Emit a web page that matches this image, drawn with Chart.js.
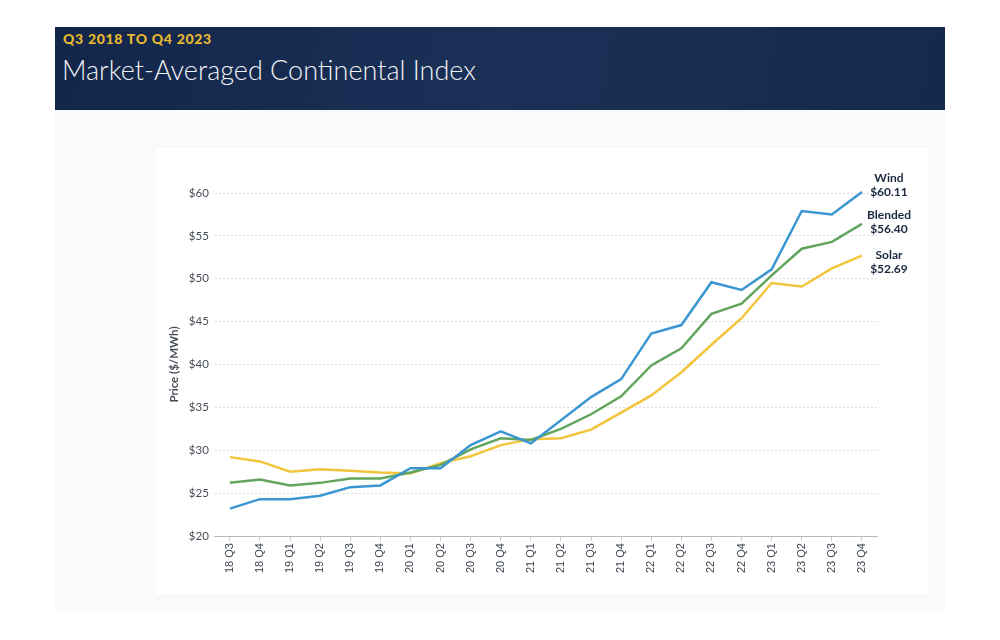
<!DOCTYPE html>
<html>
<head>
<meta charset="utf-8">
<script src="https://cdn.jsdelivr.net/npm/chart.js@4"></script>
<style>
    body { margin: 0; width: 1000px; height: 640px; background: #fff; font-family: Lato, sans-serif; position: relative; overflow: hidden; }
    .banner { position: absolute; left: 55px; top: 27px; width: 890px; height: 83px; background: linear-gradient(100deg, #13264a 0%, #1a3056 50%, #14294c 100%); }
    .banner .sub { position: absolute; left: 8px; top: 3px; color: #e9b92f; font-weight: 900; font-size: 14px; letter-spacing: 0.7px; }
    .banner .title { position: absolute; left: 7px; top: 26px; color: #f1f3f7; font-weight: 300; font-size: 27px; }
    .panel { position: absolute; left: 55px; top: 110px; width: 890px; height: 502px; background: #f9fafb; }
    .card { position: absolute; left: 155px; top: 148px; width: 773px; height: 447px; background: #fff; box-shadow: 0 0 4px rgba(0,0,0,0.03); }
</style>
</head>
<body>
<div class="banner">
    <div class="sub">Q3 2018 TO Q4 2023</div>
    <div class="title">Market-Averaged Continental Index</div>
</div>
<div class="panel"></div>
<div class="card"><canvas id="chartIndex"></canvas></div>

<script>
const quarters = ['18 Q3', '18 Q4', '19 Q1', '19 Q2', '19 Q3', '19 Q4', '20 Q1', '20 Q2', '20 Q3', '20 Q4',
    '21 Q1', '21 Q2', '21 Q3', '21 Q4', '22 Q1', '22 Q2', '22 Q3', '22 Q4', '23 Q1', '23 Q2', '23 Q3', '23 Q4'];
const windPrices = [23.2, 24.3, 24.3, 24.7, 25.7, 25.9, 27.9, 27.9, 30.6, 32.2,
    30.8, 33.5, 36.2, 38.3, 43.6, 44.6, 49.6, 48.7, 51.1, 57.9, 57.5, 60.11];
const blendedPrices = [26.2, 26.6, 25.9, 26.2, 26.7, 26.7, 27.4, 28.3, 30.1, 31.4,
    31.2, 32.5, 34.2, 36.3, 39.9, 41.9, 45.9, 47.1, 50.4, 53.5, 54.3, 56.40];
const solarPrices = [29.2, 28.7, 27.5, 27.8, 27.6, 27.4, 27.3, 28.5, 29.3, 30.6,
    31.3, 31.4, 32.4, 34.4, 36.4, 39.1, 42.3, 45.4, 49.5, 49.1, 51.2, 52.69];
const seriesNames = ['Wind', 'Blended', 'Solar'];
const yTicks = [20, 25, 30, 35, 40, 45, 50, 55, 60];

// Nhãn cuối đường: tên + giá trị cuối
const endLabels = {
    id: 'endLabels',
    afterDatasetsDraw(chart) {
        const ctx = chart.ctx;
        ctx.save();
        ctx.font = 'bold 12px Lato, sans-serif';
        ctx.fillStyle = '#1b2940';
        ctx.textAlign = 'center';
        ctx.textBaseline = 'middle';
        chart.data.datasets.forEach((ds, i) => {
            const meta = chart.getDatasetMeta(i);
            const pt = meta.data[meta.data.length - 1];
            const last = ds.data[ds.data.length - 1];
            const x = pt.x + 27;
            ctx.fillText(ds.label, x, pt.y + ds.labelDy);
            ctx.fillText('$' + last.toFixed(2), x, pt.y + ds.labelDy + 14);
        });
        ctx.restore();
    }
};

function makeLine(label, data, color, labelDy) {
    return {
        label: label,
        data: data,
        borderColor: color,
        backgroundColor: color,
        borderWidth: 2.5,
        pointRadius: 0,
        tension: 0,
        fill: false,
        clip: false,
        labelDy: labelDy
    };
}

new Chart(document.getElementById('chartIndex').getContext('2d'), {
    type: 'line',
    data: {
        labels: quarters,
        datasets: [
            makeLine(seriesNames[0], windPrices, '#3b96d2', -14),
            makeLine(seriesNames[1], blendedPrices, '#62a55c', -9),
            makeLine(seriesNames[2], solarPrices, '#f2c53d', -1)
        ]
    },
    options: {
        responsive: true,
        maintainAspectRatio: false,
        animation: false,
        layout: { padding: { left: 10, right: 51, top: 45, bottom: 20 } },
        plugins: { legend: { display: false }, tooltip: { enabled: false } },
        scales: {
            x: {
                offset: true,
                grid: { drawOnChartArea: false, drawTicks: true, tickLength: 5, color: '#c8cdd4' },
                border: { color: '#b4bac2' },
                ticks: {
                    minRotation: 90, maxRotation: 90, padding: 2,
                    color: '#3d4450', font: { family: 'Liberation Sans, Arial, sans-serif', size: 11 }
                }
            },
            y: {
                min: yTicks[0],
                max: yTicks[yTicks.length - 1],
                afterBuildTicks: (axis) => { axis.ticks = yTicks.map(v => ({ value: v })); },
                grid: { color: '#d9dde3', drawTicks: false },
                border: { display: false, dash: [2, 2] },
                ticks: {
                    padding: 6, color: '#474d57',
                    font: { family: 'Lato, sans-serif', size: 11.5 },
                    callback: (v) => '$' + v
                },
                title: {
                    display: true, text: 'Price ($/MWh)', color: '#474d57', padding: 2,
                    font: { family: 'Lato, sans-serif', size: 11.5, weight: 'bold' }
                }
            }
        }
    },
    plugins: [endLabels]
});
</script>
</body>
</html>
